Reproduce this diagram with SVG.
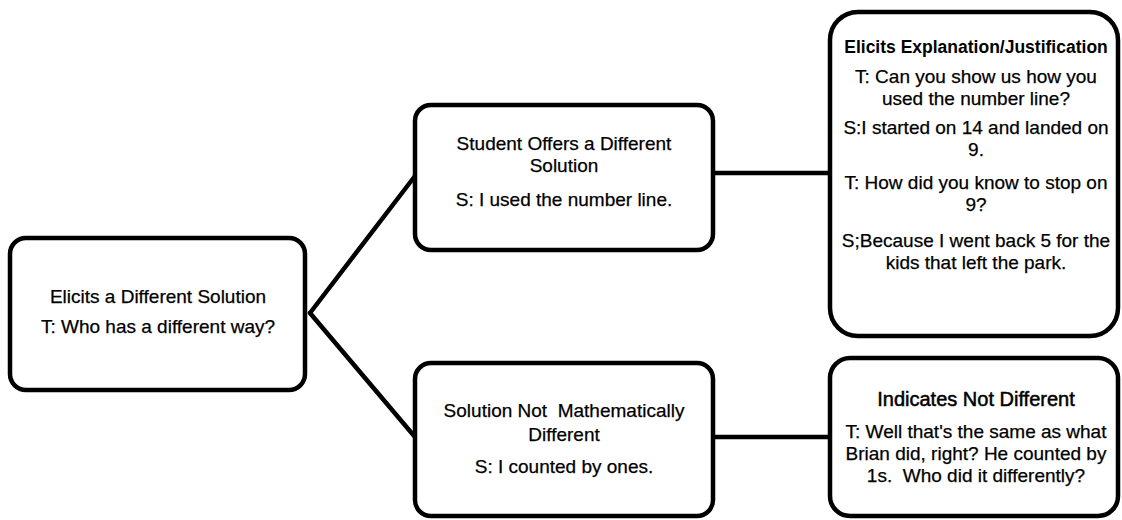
<svg xmlns="http://www.w3.org/2000/svg" width="1122" height="520" viewBox="0 0 1122 520">
<style>
.box{fill:#fff;stroke:#000;stroke-width:4.5}
.conn{stroke:#000;stroke-width:4.5;fill:none;stroke-linecap:round}
text{font-family:"Liberation Sans",Arial,sans-serif;font-size:19px;fill:#000;stroke:#000;stroke-width:0.25;text-anchor:middle}
.b{font-weight:bold;stroke-width:0}
</style>
<rect width="1122" height="520" fill="#fff"/>
<g id="connectors">
<path class="conn" d="M310,313 L415,176"/>
<path class="conn" d="M310,313 L415,437"/>
<path class="conn" d="M713,173 L830,173"/>
<path class="conn" d="M713,437 L830,437"/>
</g>
<g id="n1">
<rect class="box" x="10" y="238" width="295" height="152" rx="16"/>
<text x="158" y="303">Elicits a Different Solution</text>
<text x="158" y="333">T: Who has a different way?</text>
</g>
<g id="n2">
<rect class="box" x="415" y="105" width="298" height="145" rx="16"/>
<text x="564" y="150">Student Offers a Different</text>
<text x="564" y="172">Solution</text>
<text x="564" y="206">S: I used the number line.</text>
</g>
<g id="n3">
<rect class="box" x="415" y="363" width="298" height="153" rx="16"/>
<text x="564" y="417" xml:space="preserve">Solution Not  Mathematically</text>
<text x="564" y="441">Different</text>
<text x="564" y="473">S: I counted by ones.</text>
</g>
<g id="n4">
<rect class="box" x="830" y="12" width="288" height="324" rx="28"/>
<text class="b" x="976" y="53" style="font-size:17.5px">Elicits Explanation/Justification</text>
<text x="976" y="83">T: Can you show us how you</text>
<text x="976" y="105">used the number line?</text>
<text x="976" y="134">S:I started on 14 and landed on</text>
<text x="976" y="156">9.</text>
<text x="976" y="189">T: How did you know to stop on</text>
<text x="976" y="211">9?</text>
<text x="976" y="247">S;Because I went back 5 for the</text>
<text x="976" y="269">kids that left the park.</text>
</g>
<g id="n5">
<rect class="box" x="830" y="358" width="288" height="158" rx="20"/>
<text x="976" y="406" style="font-size:20px;stroke-width:0.5">Indicates Not Different</text>
<text x="976" y="438">T: Well that's the same as what</text>
<text x="976" y="460">Brian did, right? He counted by</text>
<text x="976" y="482" xml:space="preserve">1s.  Who did it differently?</text>
</g>
</svg>
